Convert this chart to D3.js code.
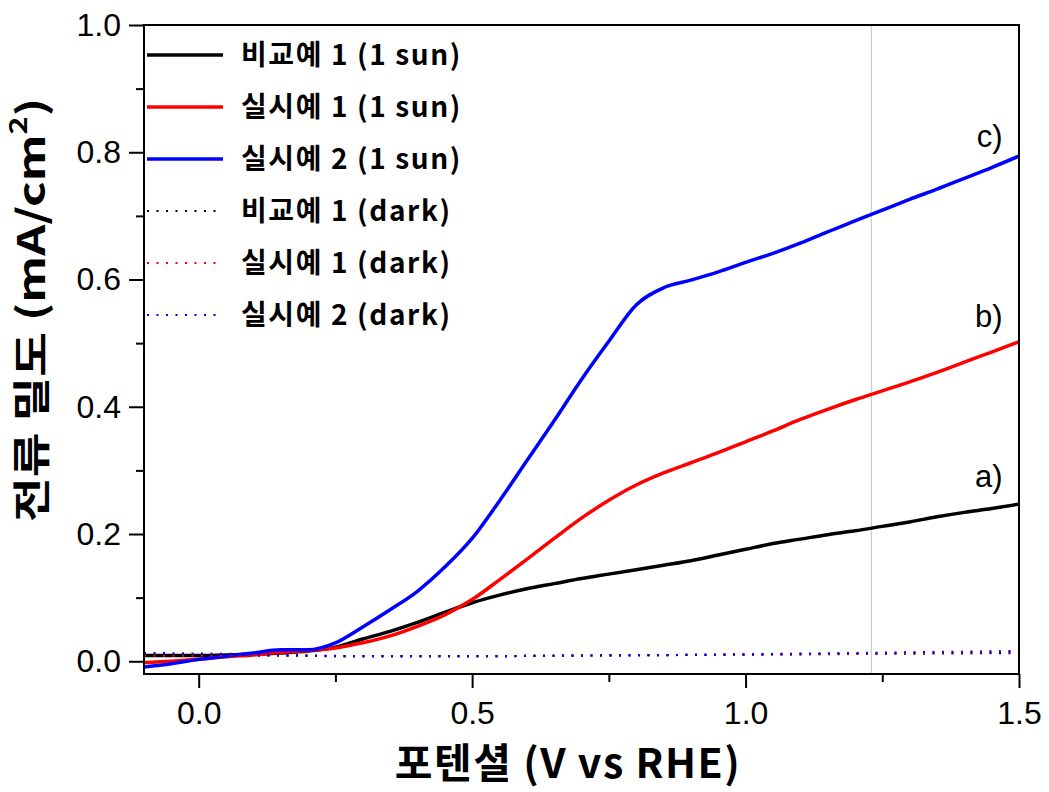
<!DOCTYPE html>
<html>
<head>
<meta charset="utf-8">
<script src="https://cdn.jsdelivr.net/npm/d3@7"></script>
<style>
  body { margin: 0; background: #fff; }
</style>
</head>
<body>
<div class="d3Chart"></div>
<script>
// 전위 (V vs RHE)
const potential = [-0.1, -0.05, 0, 0.05, 0.1, 0.15, 0.2, 0.25, 0.3, 0.35, 0.4, 0.45, 0.5, 0.55, 0.6, 0.65,
  0.7, 0.75, 0.8, 0.85, 0.9, 0.95, 1.0, 1.05, 1.1, 1.15, 1.2, 1.25, 1.3, 1.35, 1.4, 1.45, 1.5]

// 광조사 (1 sun) 전류 밀도
const sunRef = [0.009, 0.009, 0.009, 0.010, 0.011, 0.013, 0.016, 0.022, 0.035, 0.047, 0.061, 0.077, 0.092, 0.104,
  0.114, 0.122, 0.130, 0.137, 0.144, 0.151, 0.158, 0.167, 0.176, 0.185, 0.192, 0.199, 0.205, 0.212, 0.219, 0.227,
  0.234, 0.240, 0.247]
const sunEx1 = [-0.002, 0.000, 0.003, 0.007, 0.010, 0.014, 0.017, 0.021, 0.029, 0.040, 0.055, 0.073, 0.097, 0.128,
  0.160, 0.193, 0.225, 0.253, 0.277, 0.296, 0.312, 0.328, 0.345, 0.362, 0.380, 0.396, 0.411, 0.425, 0.439, 0.454,
  0.470, 0.486, 0.502]
const sunEx2 = [-0.009, -0.004, 0.003, 0.008, 0.013, 0.018, 0.018, 0.029, 0.054, 0.081, 0.110, 0.148, 0.193, 0.252,
  0.315, 0.378, 0.443, 0.503, 0.560, 0.587, 0.599, 0.612, 0.627, 0.641, 0.657, 0.675, 0.692, 0.709, 0.726, 0.742,
  0.759, 0.776, 0.794]

// 암조건 (dark) 전류 밀도
const darkPotential = [-0.1, 0.1, 0.3, 0.5, 0.7, 0.9, 1.1, 1.3, 1.5]
const darkRef = [0.010, 0.009, 0.008, 0.008, 0.009, 0.010, 0.011, 0.012, 0.013]
const darkEx1 = [0.009, 0.009, 0.008, 0.008, 0.009, 0.010, 0.011, 0.013, 0.015]
const darkEx2 = [0.013, 0.011, 0.008, 0.008, 0.009, 0.010, 0.012, 0.014, 0.016]

const legendNames = ['비교예 1 (1 sun)', '실시예 1 (1 sun)', '실시예 2 (1 sun)',
  '비교예 1 (dark)', '실시예 1 (dark)', '실시예 2 (dark)']
const seriesColors = ['#000000', '#ff0000', '#0000ff', '#000000', '#ff0000', '#0000ff']

const xMajorTicks = [0, 0.5, 1.0, 1.5]
const xMinorTicks = [0.25, 0.75, 1.25]
const yMajorTicks = [0, 0.2, 0.4, 0.6, 0.8, 1.0]
const yMinorTicks = [0.1, 0.3, 0.5, 0.7, 0.9]

const curveLabels = ['a)', 'b)', 'c)']
const curveLabelY = [0.274, 0.525, 0.808]
const curveLabelX = 1.47
const markerPotential = 1.23

const width = 1049
const height = 792
const box = { left: 144, right: 1019, top: 25, bottom: 674 }
const numFont = '"Liberation Sans", Arial, sans-serif'
const krFont = '"Noto Sans CJK KR", "Noto Sans", sans-serif'

const x = d3.scaleLinear().domain([-0.1, 1.5]).range([box.left, box.right])
const y = d3.scaleLinear().domain([-0.02, 1.0]).range([box.bottom, box.top])

const svg = d3.select('.d3Chart')
  .append('svg')
  .attr('width', width)
  .attr('height', height)
  .style('display', 'block')

// 세로 기준선
svg.append('line')
  .attr('x1', x(markerPotential)).attr('x2', x(markerPotential))
  .attr('y1', box.top).attr('y2', box.bottom)
  .attr('stroke', '#c4c4c4')
  .attr('stroke-width', 1)

const line = d3.line()
  .curve(d3.curveMonotoneX)
  .x(d => x(d[0]))
  .y(d => y(d[1]))

const sunSeries = [sunRef, sunEx1, sunEx2]
sunSeries.forEach((values, i) => {
  svg.append('path')
    .datum(potential.map((p, j) => [p, values[j]]))
    .attr('d', line)
    .attr('fill', 'none')
    .attr('stroke', seriesColors[i])
    .attr('stroke-width', 3.5)
    .attr('stroke-linejoin', 'round')
})

const darkSeries = [darkRef, darkEx1, darkEx2]
darkSeries.forEach((values, i) => {
  svg.append('path')
    .datum(darkPotential.map((p, j) => [p, values[j]]))
    .attr('d', line)
    .attr('fill', 'none')
    .attr('stroke', seriesColors[i + 3])
    .attr('stroke-width', 2.2)
    .attr('stroke-dasharray', '2,7.5')
})

// 축
svg.append('g')
  .attr('transform', `translate(0, ${box.bottom})`)
  .call(d3.axisBottom(x).tickValues(xMajorTicks).tickFormat(d3.format('.1f')).tickSize(14).tickPadding(13))
svg.append('g')
  .attr('transform', `translate(0, ${box.bottom})`)
  .call(d3.axisBottom(x).tickValues(xMinorTicks).tickFormat('').tickSize(8))

svg.append('g')
  .attr('transform', `translate(${box.left}, 0)`)
  .call(d3.axisLeft(y).tickValues(yMajorTicks).tickFormat(d3.format('.1f')).tickSize(15).tickPadding(8))
svg.append('g')
  .attr('transform', `translate(${box.left}, 0)`)
  .call(d3.axisLeft(y).tickValues(yMinorTicks).tickFormat('').tickSize(8))

svg.selectAll('.domain').remove()
svg.selectAll('.tick line').attr('stroke', '#000').attr('stroke-width', 2)
svg.selectAll('.tick text')
  .attr('fill', '#000')
  .attr('font-family', numFont)
  .attr('font-size', 32)

svg.append('rect')
  .attr('x', box.left).attr('y', box.top)
  .attr('width', box.right - box.left).attr('height', box.bottom - box.top)
  .attr('fill', 'none')
  .attr('stroke', '#000')
  .attr('stroke-width', 2)

// 곡선 라벨
svg.append('g')
  .selectAll('text')
  .data(curveLabels)
  .enter()
  .append('text')
  .attr('x', x(curveLabelX))
  .attr('y', (d, i) => y(curveLabelY[i]))
  .attr('text-anchor', 'end')
  .attr('font-family', numFont)
  .attr('font-size', 31)
  .text(d => d)

// 범례
const legend = svg.append('g')
  .selectAll('g')
  .data(legendNames)
  .enter()
  .append('g')
  .attr('transform', (d, i) => `translate(147, ${55 + i * 52})`)

legend.append('line')
  .attr('x1', 0).attr('x2', 76)
  .attr('stroke', (d, i) => seriesColors[i])
  .attr('stroke-width', (d, i) => i < 3 ? 3.5 : 2.2)
  .attr('stroke-dasharray', (d, i) => i < 3 ? null : '2,7.5')

legend.append('text')
  .attr('x', 94)
  .attr('dy', '0.36em')
  .attr('font-family', krFont)
  .attr('font-weight', 700)
  .attr('font-size', 28)
  .attr('letter-spacing', 1.6)
  .text(d => d)

// 축 제목
svg.append('text')
  .attr('x', 568)
  .attr('y', 778)
  .attr('text-anchor', 'middle')
  .attr('font-family', krFont)
  .attr('font-weight', 700)
  .attr('font-size', 41)
  .attr('letter-spacing', 1.5)
  .text('포텐셜 (V vs RHE)')

const yTitle = svg.append('text')
  .attr('transform', 'translate(31, 310) rotate(-90) scale(1.28, 1)')
  .attr('text-anchor', 'middle')
  .attr('dy', '0.36em')
  .attr('font-family', krFont)
  .attr('font-weight', 700)
  .attr('font-size', 38)
yTitle.append('tspan').text('전류 밀도  (mA/cm')
yTitle.append('tspan').attr('baseline-shift', 'super').attr('font-size', 24).text('2')
yTitle.append('tspan').text(')')
</script>
</body>
</html>
